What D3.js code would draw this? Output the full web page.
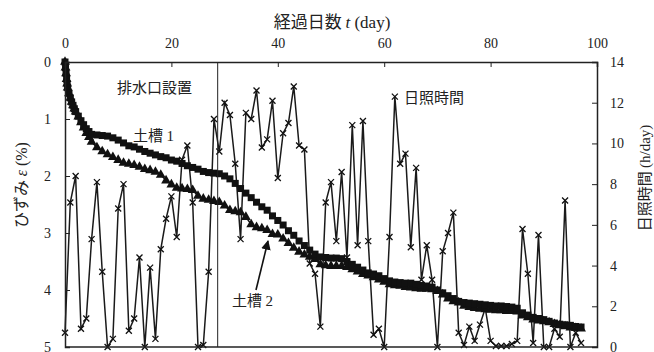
<!DOCTYPE html>
<html>
<head>
<meta charset="utf-8">
<script src="https://cdn.jsdelivr.net/npm/d3@7"></script>
<style>
  body { margin: 0; background: #fff; }
  text { fill: #222; }
</style>
</head>
<body>
<div id="chart"></div>
<script>
// sunshine hours per day, day 0..97
var sunHours = [0.7, 7.1, 8.4, 0.9, 1.4, 5.3, 8.1, 3.7, 0.0, 0.4,
  6.8, 8.0, 0.8, 1.4, 4.4, 0.0, 3.9, 0.4, 4.8, 6.3,
  7.4, 5.4, 9.2, 9.9, 7.1, 0.0, 0.1, 3.7, 11.2, 9.6,
  12.0, 11.4, 9.0, 5.3, 11.5, 11.2, 12.6, 9.8, 10.2, 12.1,
  8.3, 10.5, 11.0, 12.8, 9.9, 9.7, 4.1, 3.6, 1.0, 7.1,
  8.1, 5.2, 8.6, 4.4, 10.9, 5.0, 11.1, 5.2, 0.6, 0.9,
  0.0, 5.4, 12.3, 9.0, 9.5, 4.9, 8.8, 3.3, 5.0, 3.3,
  0.0, 4.7, 5.6, 6.6, 0.7, 0.1, 1.0, 0.3, 1.1, 1.9,
  0.3, 0.05, 0.05, 0.05, 0.15, 0.3, 5.8, 3.6, 0.2, 5.5,
  0.0, 0.0, 0.9, 0.5, 7.2, 0.0, 0.7, 0.2];

// strain, soil tank 1 (squares)
var tank1Days = [0, 0.1, 0.2, 0.3, 0.4, 0.5, 0.75, 1, 1.25, 1.5, 1.75, 2, 2.5, 3, 3.5, 4, 4.5,
  5, 6, 7, 8, 9, 10, 11, 12, 13, 14, 15, 16, 17, 18, 19, 20, 21, 22, 23, 24, 25, 26, 27, 28, 29,
  30, 31, 32, 33, 34, 35, 36, 37, 38, 39, 40, 41, 42, 43, 44, 45, 46, 47, 48, 49, 50, 51, 52, 53,
  54, 55, 56, 57, 58, 59, 60, 61, 62, 63, 64, 65, 66, 67, 68, 69, 70, 71, 72, 73, 74, 75, 76, 77,
  78, 79, 80, 81, 82, 83, 84, 85, 86, 87, 88, 89, 90, 91, 92, 93, 94, 95, 96, 97];
var tank1Strain = [0, 0.1, 0.2, 0.3, 0.38, 0.45, 0.55, 0.63, 0.7, 0.76, 0.82, 0.87, 0.95, 1.03, 1.1, 1.17, 1.22,
  1.27, 1.28, 1.29, 1.30, 1.33, 1.37, 1.42, 1.47, 1.49, 1.53, 1.57, 1.60, 1.63, 1.66, 1.68, 1.72, 1.74, 1.78, 1.82, 1.85, 1.88, 1.92, 1.94, 1.95, 1.96,
  2.0, 2.05, 2.13, 2.22, 2.3, 2.38, 2.46, 2.54, 2.6, 2.7, 2.78, 2.86, 2.96, 3.04, 3.14, 3.22, 3.3, 3.37, 3.42, 3.43, 3.44, 3.44, 3.45, 3.5,
  3.55, 3.6, 3.65, 3.7, 3.72, 3.75, 3.8, 3.84, 3.86, 3.87, 3.88, 3.88, 3.9, 3.92, 3.93, 3.95, 4.0, 4.05, 4.1, 4.15, 4.2, 4.22, 4.23, 4.24,
  4.25, 4.26, 4.27, 4.28, 4.28, 4.29, 4.3, 4.32, 4.4, 4.44, 4.48, 4.5, 4.52, 4.55, 4.58, 4.6, 4.61, 4.62, 4.64, 4.65];

// strain, soil tank 2 (triangles)
var tank2Days = tank1Days;
var tank2Strain = [0, 0.1, 0.2, 0.3, 0.38, 0.45, 0.55, 0.63, 0.7, 0.76, 0.82, 0.87, 0.96, 1.06, 1.15, 1.25, 1.32,
  1.4, 1.5, 1.57, 1.62, 1.67, 1.72, 1.77, 1.79, 1.81, 1.84, 1.88, 1.9, 1.93, 1.98, 2.08, 2.15, 2.21, 2.22, 2.23, 2.25, 2.35, 2.4, 2.42, 2.44, 2.46,
  2.52, 2.6, 2.62, 2.64, 2.72, 2.85, 2.9, 2.92, 2.95, 3.02, 3.03, 3.1, 3.18, 3.26, 3.33, 3.38, 3.42, 3.46, 3.55, 3.57, 3.58, 3.58, 3.58, 3.6,
  3.64, 3.68, 3.72, 3.75, 3.78, 3.82, 3.86, 3.9, 3.92, 3.93, 3.95, 3.96, 3.97, 3.98, 3.98, 3.99, 4.02, 4.08, 4.15, 4.2, 4.22, 4.28, 4.3, 4.32,
  4.33, 4.34, 4.35, 4.36, 4.36, 4.37, 4.37, 4.38, 4.45, 4.48, 4.52, 4.54, 4.55, 4.57, 4.6, 4.62, 4.64, 4.66, 4.67, 4.68];

var dayTicks = [0, 20, 40, 60, 80, 100];
var strainTicks = [0, 1, 2, 3, 4, 5];
var sunTicks = [0, 2, 4, 6, 8, 10, 12, 14];
var drainDay = 28.7;

var width = 654, height = 352;
var margin = {top: 62, right: 57, bottom: 5, left: 65};

var svg = d3.select("#chart").append("svg")
  .attr("width", width)
  .attr("height", height);

var x = d3.scaleLinear().domain([0, 100]).range([margin.left, width - margin.right]);
var yStrain = d3.scaleLinear().domain([0, 5]).range([margin.top, height - margin.bottom]);
var ySun = d3.scaleLinear().domain([0, 14]).range([height - margin.bottom, margin.top]);

var numFont = "'Liberation Serif', 'Times New Roman', serif";
var jpFont = "'Noto Sans CJK JP', 'Noto Sans', sans-serif";

// sunshine line + x markers
var sunData = sunHours.map(function(v, i) { return [i, v]; });
svg.append("path")
  .datum(sunData)
  .attr("fill", "none")
  .attr("stroke", "#1a1a1a")
  .attr("stroke-width", 1.5)
  .attr("d", d3.line().x(function(d) { return x(d[0]); }).y(function(d) { return ySun(d[1]); }));

svg.append("g").selectAll("path")
  .data(sunData)
  .enter().append("path")
  .attr("transform", function(d) { return "translate(" + x(d[0]) + "," + ySun(d[1]) + ")"; })
  .attr("d", "M-3,-3L3,3M-3,3L3,-3")
  .attr("stroke", "#111")
  .attr("stroke-width", 1.3);

// strain series
var tank1 = tank1Days.map(function(d, i) { return [d, tank1Strain[i]]; });
var tank2 = tank2Days.map(function(d, i) { return [d, tank2Strain[i]]; });
var strainLine = d3.line().x(function(d) { return x(d[0]); }).y(function(d) { return yStrain(d[1]); });

[tank1, tank2].forEach(function(series) {
  svg.append("path")
    .datum(series)
    .attr("fill", "none")
    .attr("stroke", "#111")
    .attr("stroke-width", 1.5)
    .attr("d", strainLine);
});

svg.append("g").selectAll("path")
  .data(tank2)
  .enter().append("path")
  .attr("transform", function(d) { return "translate(" + x(d[0]) + "," + yStrain(d[1]) + ")"; })
  .attr("d", d3.symbol().type(d3.symbolTriangle).size(42))
  .attr("fill", "#111");

svg.append("g").selectAll("rect")
  .data(tank1)
  .enter().append("rect")
  .attr("x", function(d) { return x(d[0]) - 3.5; })
  .attr("y", function(d) { return yStrain(d[1]) - 3.5; })
  .attr("width", 7)
  .attr("height", 7)
  .attr("fill", "#111");

// drain installed line
svg.append("line")
  .attr("x1", x(drainDay)).attr("x2", x(drainDay))
  .attr("y1", margin.top).attr("y2", height - margin.bottom)
  .attr("stroke", "#222")
  .attr("stroke-width", 1);

// axes
var topAxis = d3.axisTop(x).tickValues(dayTicks).tickSize(-5).tickPadding(14);
var leftAxis = d3.axisLeft(yStrain).tickValues(strainTicks).tickSize(-5).tickPadding(14).tickFormat(d3.format("d"));
var rightAxis = d3.axisRight(ySun).tickValues(sunTicks).tickSize(-5).tickPadding(13);

var gTop = svg.append("g").attr("transform", "translate(0," + margin.top + ")").call(topAxis);
var gLeft = svg.append("g").attr("transform", "translate(" + margin.left + ",0)").call(leftAxis);
var gRight = svg.append("g").attr("transform", "translate(" + (width - margin.right) + ",0)").call(rightAxis);

[gTop, gLeft, gRight].forEach(function(g) {
  g.selectAll("text").style("font-family", numFont).style("font-size", "14px").style("fill", "#222");
  g.selectAll("line").attr("stroke", "#222");
  g.select(".domain").attr("stroke", "#222").attr("stroke-width", 1.5);
});

svg.append("line")
  .attr("x1", margin.left).attr("x2", width - margin.right)
  .attr("y1", height - margin.bottom).attr("y2", height - margin.bottom)
  .attr("stroke", "#222").attr("stroke-width", 1.5);

// titles
var title = svg.append("text")
  .attr("x", 332).attr("y", 28)
  .attr("text-anchor", "middle")
  .style("font-size", "17px");
title.append("tspan").style("font-family", jpFont).text("経過日数 ");
title.append("tspan").style("font-family", numFont).style("font-style", "italic").text("t");
title.append("tspan").style("font-family", numFont).text(" (day)");

var yLabel = svg.append("text")
  .attr("transform", "translate(27,185) rotate(-90)")
  .attr("text-anchor", "middle")
  .style("font-size", "16px");
yLabel.append("tspan").style("font-family", jpFont).text("ひずみ ");
yLabel.append("tspan").style("font-family", numFont).style("font-style", "italic").text("ε");
yLabel.append("tspan").style("font-family", numFont).text(" (%)");

var y2Label = svg.append("text")
  .attr("transform", "translate(650,178) rotate(-90)")
  .attr("text-anchor", "middle")
  .style("font-size", "15px");
y2Label.append("tspan").style("font-family", jpFont).text("日照時間 ");
y2Label.append("tspan").style("font-family", numFont).text("(h/day)");

// annotations
svg.append("text").attr("x", 117).attr("y", 93)
  .style("font-family", jpFont).style("font-size", "15px").text("排水口設置");
svg.append("text").attr("x", 404).attr("y", 103)
  .style("font-family", jpFont).style("font-size", "15px").text("日照時間");

var lab1 = svg.append("text").attr("x", 133).attr("y", 141).style("font-size", "15px");
lab1.append("tspan").style("font-family", jpFont).text("土槽 ");
lab1.append("tspan").style("font-family", numFont).text("1");

var lab2 = svg.append("text").attr("x", 232).attr("y", 306).style("font-size", "15px");
lab2.append("tspan").style("font-family", jpFont).text("土槽 ");
lab2.append("tspan").style("font-family", numFont).text("2");

// arrow to tank 2
svg.append("defs").append("marker")
  .attr("id", "head")
  .attr("viewBox", "0 0 10 10")
  .attr("refX", 9).attr("refY", 5)
  .attr("markerWidth", 6).attr("markerHeight", 6)
  .attr("orient", "auto")
  .append("path").attr("d", "M0,0L10,5L0,10Z").attr("fill", "#111");

svg.append("line")
  .attr("x1", 256).attr("y1", 290)
  .attr("x2", 268).attr("y2", 241)
  .attr("stroke", "#111").attr("stroke-width", 1.6)
  .attr("marker-end", "url(#head)");
</script>
</body>
</html>
